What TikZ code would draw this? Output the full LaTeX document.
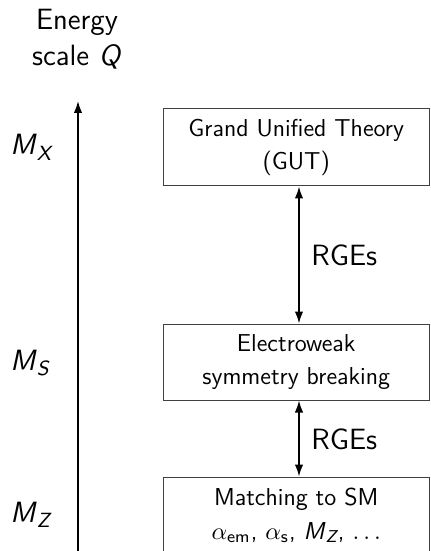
\documentclass[tikz,border=0pt]{standalone}
\usepackage{amsmath}
\usetikzlibrary{arrows.meta}
\begin{document}
\begin{tikzpicture}[x=0.45pt,y=-0.45pt,
  every node/.style={font=\sffamily\fontsize{11}{13.2}\selectfont},
  box/.style={draw=black!75, line width=0.45pt, minimum width=119.9pt, inner sep=0pt, align=center},
  lbl/.style={font=\sffamily\fontsize{13.2}{15.8}\selectfont, inner sep=0pt},
  arr/.style={line width=0.7pt, -{Latex[length=5.4pt,width=3.8pt]}},
  darr/.style={line width=0.7pt, {Latex[length=5.4pt,width=3.8pt]}-{Latex[length=5.4pt,width=3.8pt]}}]
\useasboundingbox (0,0) rectangle (430,551);
% title
\node[lbl, align=center] (title) at (77,39) {Energy\\[0.3pt]scale \textit{Q}};
% axis
\coordinate (axtop) at (78,101);
\coordinate (axbot) at (78,560);
\draw[arr] (axbot) -- (axtop);
% scale labels
\node[lbl, anchor=base west] (mx) at (10,155) {\textit{M}$_{\textit{X}}$};
\node[lbl, anchor=base west] (ms) at (10,370) {\textit{M}$_{\textit{S}}$};
\node[lbl, anchor=base west] (mz) at (10,522) {\textit{M}$_{\textit{Z}}$};
% boxes
\node[box, minimum height=34.65pt] (gut) at (296.25,147.5) {Grand Unified Theory\\[1.9pt](GUT)};
\node[box, minimum height=34.2pt] (ew) at (296.25,362) {Electroweak\\[1.9pt]symmetry breaking};
\node[box, minimum height=34.65pt] (sm) at (296.25,515.5) {Matching to SM\\[1.9pt]$\alpha_{\textsf{em}}$, $\alpha_{\textsf{s}}$, \textit{M}$_{\textit{Z}}$, $\ldots$};
% RGE arrows
\coordinate (ax) at (299,0);
\draw[darr] (gut.south -| ax) -- (ew.north -| ax);
\draw[darr] (ew.south -| ax) -- (sm.north -| ax);
\node[lbl, anchor=base west] (rge1) at (311,265) {RGEs};
\node[lbl, anchor=base west] (rge2) at (311,449) {RGEs};
\end{tikzpicture}
\end{document}
